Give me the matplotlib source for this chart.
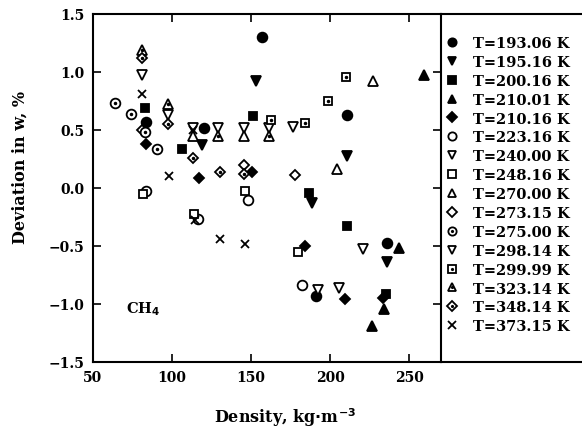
import matplotlib
matplotlib.use('Agg')
import matplotlib.pyplot as plt
from matplotlib.lines import Line2D

plt.rcParams['font.family'] = ['DejaVu Serif']
plt.rcParams['font.weight'] = 'bold'
plt.rcParams['mathtext.default'] = 'bf'

# 各温度下的偏差数据 (密度 kg/m3, 偏差 %)
labels = ['T=193.06 K', 'T=195.16 K', 'T=200.16 K', 'T=210.01 K', 'T=210.16 K',
          'T=223.16 K', 'T=240.00 K', 'T=248.16 K', 'T=270.00 K', 'T=273.15 K',
          'T=275.00 K', 'T=298.14 K', 'T=299.99 K', 'T=323.14 K', 'T=348.14 K',
          'T=373.15 K']

x_19306 = [83.5, 120.3, 157, 210.8, 236, 191]
y_19306 = [0.57, 0.52, 1.30, 0.63, -0.47, -0.93]
x_19516 = [119, 153, 210.8, 188.6, 236]
y_19516 = [0.37, 0.92, 0.28, -0.13, -0.64]
x_20016 = [82.9, 106, 151, 186.7, 210.8, 235.5]
y_20016 = [0.69, 0.34, 0.62, -0.04, -0.33, -0.91]
x_21001 = [259, 243.7, 234, 226.6]
y_21001 = [0.97, -0.52, -1.04, -1.19]
x_21016 = [83.5, 117, 150.6, 184, 209.5, 233.5]
y_21016 = [0.38, 0.09, 0.14, -0.50, -0.96, -0.95]
x_22316 = [83.5, 116.5, 148, 182.3]
y_22316 = [-0.03, -0.27, -0.10, -0.84]
x_24000 = [113, 145.6, 176.6, 221]
y_24000 = [0.52, 0.52, 0.53, -0.53]
x_24816 = [81.6, 114, 146, 179.8]
y_24816 = [-0.05, -0.22, -0.03, -0.55]
x_27000 = [113, 145.6, 204.5, 227]
y_27000 = [0.45, 0.45, 0.16, 0.92]
x_27315 = [81, 145.6, 177.8]
y_27315 = [0.50, 0.20, 0.11]
x_27500 = [64, 74, 90.5, 83]
y_27500 = [0.73, 0.64, 0.34, 0.48]
x_29814 = [81, 97.5, 129, 161.4, 192.4, 205.7]
y_29814 = [0.97, 0.63, 0.52, 0.52, -0.88, -0.86]
x_29999 = [210, 198.8, 162.7, 184]
y_29999 = [0.96, 0.75, 0.59, 0.56]
x_32314 = [81, 97.5, 129, 161.4]
y_32314 = [1.19, 0.72, 0.45, 0.45]
x_34814 = [81, 97.5, 113, 130, 145.6]
y_34814 = [1.12, 0.55, 0.26, 0.14, 0.12]
x_37315 = [81, 98, 114.6, 130.4, 146, 113]
y_37315 = [0.81, 0.10, -0.28, -0.44, -0.48, 0.50]

xs = [x_19306, x_19516, x_20016, x_21001, x_21016, x_22316, x_24000, x_24816,
      x_27000, x_27315, x_27500, x_29814, x_29999, x_32314, x_34814, x_37315]
ys = [y_19306, y_19516, y_20016, y_21001, y_21016, y_22316, y_24000, y_24816,
      y_27000, y_27315, y_27500, y_29814, y_29999, y_32314, y_34814, y_37315]

# (marker, filled, dotted, size)
styles = [('o', True, False, 7), ('v', True, False, 7), ('s', True, False, 6),
          ('^', True, False, 7), ('D', True, False, 5.5), ('o', False, False, 7),
          ('v', False, False, 7), ('s', False, False, 6), ('^', False, False, 7),
          ('D', False, False, 5.5), ('o', False, True, 7), ('v', False, False, 7),
          ('s', False, True, 6), ('^', False, True, 7), ('D', False, True, 5.5),
          ('x', True, False, 6)]

fig = plt.figure(figsize=(5.82, 4.31), dpi=100)
ax = fig.add_axes([93 / 582, 1 - 363 / 431, (441 - 93) / 582, (363 - 15) / 431])

handles = []
for x, y, (m, filled, dotted, ms) in zip(xs, ys, styles):
    fc = 'black' if filled else 'white'
    h, = ax.plot(x, y, linestyle='none', marker=m, markersize=ms,
                 markerfacecolor=fc, markeredgecolor='black', markeredgewidth=1.3,
                 color='black')
    if dotted:
        d, = ax.plot(x, y, linestyle='none', marker='o', markersize=1.5,
                     color='black')
        handles.append((h, d))
    else:
        handles.append(h)

ax.set_xlim(50, 270)
ax.set_ylim(-1.5, 1.5)
ax.set_xticks([50, 100, 150, 200, 250])
ax.set_yticks([-1.5, -1.0, -0.5, 0.0, 0.5, 1.0, 1.5])
ax.set_yticklabels(['−1.5', '−1.0', '−0.5', '0.0', '0.5', '1.0', '1.5'])
ax.tick_params(direction='in', top=True, right=True, length=6, width=1.2,
               labelsize=10, pad=6)
for s in ax.spines.values():
    s.set_linewidth(1.5)

ax.text(81.6, -1.04, 'CH$_4$', fontsize=10.5, ha='center', va='center')

fig.text(20 / 582, 1 - 168 / 431, 'Deviation in w, %', fontsize=11.5,
         fontweight='bold', rotation=90, ha='center', va='center')
fig.text(285 / 582, 1 - 418 / 431, 'Density, kg$\\cdot$m$^{-3}$', fontsize=11.5,
         ha='center', va='center')

# 图例框延伸到右边
for yy in (1 - 15 / 431, 1 - 363 / 431):
    fig.add_artist(Line2D([441 / 582, 1.0], [yy, yy], color='black', lw=1.5))

fig.legend(handles, labels, loc='upper left',
           bbox_to_anchor=(445 / 582, 1 - 37 / 431), frameon=False,
           fontsize=10.5, labelspacing=0.335, handlelength=1.0, handletextpad=0.9,
           markerscale=0.85, borderaxespad=0, borderpad=0)

fig.savefig('out.png', dpi=100)
